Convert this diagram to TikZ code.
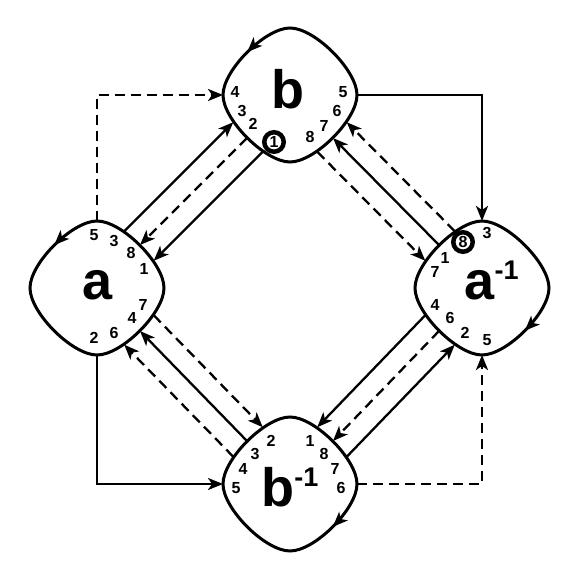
\documentclass[tikz,border=0pt]{standalone}
\usepackage{fontspec}
\setmainfont{Liberation Sans}
\usetikzlibrary{arrows.meta,decorations.markings}

\newcommand\supinv{\raisebox{20pt}{\fontsize{27}{27}\selectfont -1}}

\tikzset{
  head/.tip={Stealth[length=15pt,width=12pt,inset=4pt]},
  outline/.style={draw=black,line width=3pt},
  link/.style={draw=black,line width=2.3pt,-head},
  broken/.style={dash pattern=on 10pt off 6pt},
  num/.style={inner sep=0pt,font=\fontsize{16}{16}\selectfont\bfseries},
  ring/.style={circle,draw=black,fill=white,line width=4.5pt,minimum size=19.5pt,
    inner sep=0pt,font=\fontsize{16}{16}\selectfont\bfseries},
  big/.style={inner sep=0pt,anchor=base,font=\fontsize{54}{54}\selectfont\bfseries}
}

\begin{document}
\begin{tikzpicture}[x=1pt,y=1pt]
  \useasboundingbox (0,0) rectangle (581,581);
  \def\R{67}
  \def\C{24.8}
  % the four cells, with their ports
  \foreach \n/\x/\y/\f/\pos in {b/290/486/-1/0.375, a/97/293/-1/0.375,
                                 ai/482/293/1/0.625, bi/290/97/1/0.625} {
    \begin{scope}[shift={(\x,\y)}]
      \coordinate (\n) at (0,0);
      \coordinate (\n-n) at (0,\R);
      \coordinate (\n-s) at (0,-\R);
      \coordinate (\n-e) at (\R,0);
      \coordinate (\n-w) at (-\R,0);
      \draw[outline,xscale=\f,postaction={decorate,decoration={markings,
          mark=at position \pos with {\arrow{head}}}}]
        (-\R,0) .. controls (-\R,\C) and (-\C,\R) .. (0,\R)
        .. controls (\C,\R) and (\R,\C) .. (\R,0)
        .. controls (\R,-\C) and (\C,-\R) .. (0,-\R)
        .. controls (-\C,-\R) and (-\R,-\C) .. cycle;
      \foreach \s/\dx/\dy/\px/\py in {ne/1/1/-1/1, sw/-1/-1/-1/1,
                                      nw/-1/1/1/1, se/1/-1/1/1}
        \foreach \k in {1,2,3}
          \coordinate (\n-\s\k) at
            ({\dx*(43-abs(\k-2))+(\k-2)*\px*14.75},
             {\dy*(43-abs(\k-2))+(\k-2)*\py*14.75});
    \end{scope}
  }

  % a -- b
  \draw[link] (a-ne3) -- (b-sw3);
  \draw[link,broken] (b-sw2) -- (a-ne2);
  \draw[link] (b-sw1) -- (a-ne1);
  % b -- a^-1
  \draw[link,broken] (b-se1) -- (ai-nw1);
  \draw[link] (ai-nw2) -- (b-se2);
  \draw[link,broken] (ai-nw3) -- (b-se3);
  % a^-1 -- b^-1
  \draw[link] (ai-sw3) -- (bi-ne3);
  \draw[link,broken] (ai-sw2) -- (bi-ne2);
  \draw[link] (bi-ne1) -- (ai-sw1);
  % a -- b^-1
  \draw[link,broken] (a-se3) -- (bi-nw3);
  \draw[link] (bi-nw2) -- (a-se2);
  \draw[link,broken] (bi-nw1) -- (a-se1);
  % outer ring
  \draw[link,broken] (a-n) |- (b-w);
  \draw[link] (b-e) -| (ai-n);
  \draw[link] (a-s) |- (bi-w);
  \draw[link,broken] (bi-e) -| (ai-s);

  % labels
  \begin{scope}[shift={(b)}]
    \node[big] (b-name) at (-2,-14) {b};
    \foreach \t/\x/\y in {4/-55/3, 3/-48/-16, 2/-37/-29, 8/20/-42,
                          7/34/-31, 6/47/-16, 5/53/3}
      \node[num] (b-\t) at (\x,\y) {\t};
    \node[ring] (b-1) at (-16,-47) {1};
  \end{scope}
  \begin{scope}[shift={(a)}]
    \node[big] (a-name) at (1,-12) {a};
    \foreach \t/\x/\y in {5/-3/53, 3/17/47, 8/34/35, 1/47/19, 7/46/-17,
                          4/35/-30, 6/17/-45, 2/-3/-50}
      \node[num] (a-\t) at (\x,\y) {\t};
  \end{scope}
  \begin{scope}[shift={(ai)}]
    \node[big] (ai-name) at (9.5,-12) {a\supinv};
    \foreach \t/\x/\y in {3/5/55, 1/-37/30, 7/-47/16, 4/-47/-17,
                          6/-32/-30, 2/-17/-45, 5/5/-52}
      \node[num] (ai-\t) at (\x,\y) {\t};
    \node[ring] (ai-8) at (-19,46) {8};
  \end{scope}
  \begin{scope}[shift={(bi)}]
    \node[big] (bi-name) at (0,-23) {b\supinv};
    \foreach \t/\x/\y in {2/-19/43, 3/-35/30, 4/-47/15, 5/-54/-4,
                          1/20/43, 8/34/30, 7/45/15, 6/51/-4}
      \node[num] (bi-\t) at (\x,\y) {\t};
  \end{scope}
\end{tikzpicture}
\end{document}
